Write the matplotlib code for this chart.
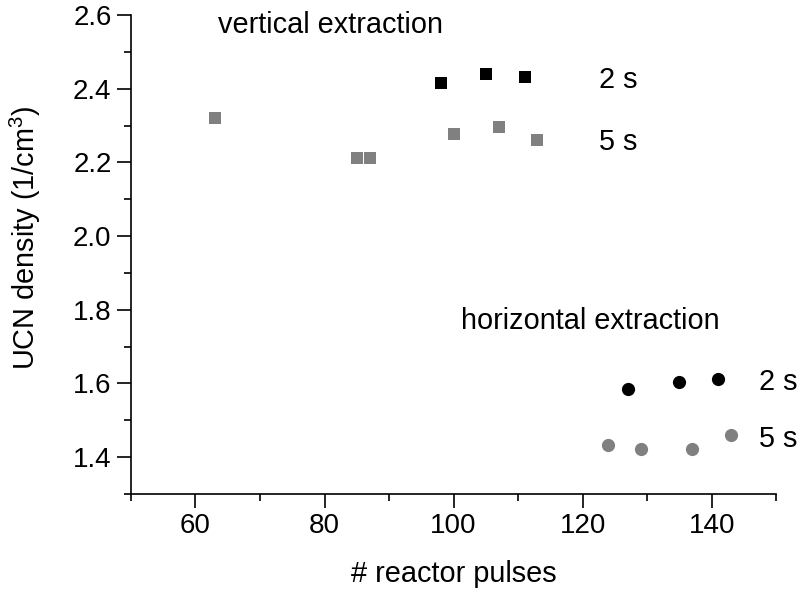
import matplotlib
matplotlib.use("Agg")
from matplotlib import pyplot as plt
from matplotlib.ticker import MultipleLocator

plt.rcParams['font.family'] = ['Liberation Sans', 'DejaVu Sans']
plt.rcParams['mathtext.fontset'] = 'custom'
plt.rcParams['mathtext.rm'] = 'Liberation Sans'

# vertical extraction (squares)
vert_2s_x = [98, 105, 111]
vert_2s_y = [2.416, 2.439, 2.433]
vert_5s_x = [63, 85, 87, 100, 107, 113]
vert_5s_y = [2.320, 2.212, 2.212, 2.278, 2.296, 2.260]

# horizontal extraction (circles)
hor_2s_x = [127, 135, 141]
hor_2s_y = [1.585, 1.604, 1.612]
hor_5s_x = [124, 129, 137, 143]
hor_5s_y = [1.434, 1.423, 1.421, 1.459]

gray = '#808080'
fs = 20.8

fig = plt.figure(figsize=(8.01, 5.89), dpi=100)
ax = fig.add_axes([0.1635, 0.1613, 0.8055, 0.8132])

ax.plot(vert_2s_x, vert_2s_y, 's', color='black', ms=8.5, mew=0)
ax.plot(vert_5s_x, vert_5s_y, 's', color=gray, ms=8.5, mew=0)
ax.plot(hor_2s_x, hor_2s_y, 'o', color='black', ms=9.5, mew=0)
ax.plot(hor_5s_x, hor_5s_y, 'o', color=gray, ms=9.5, mew=0)

ax.text(63.5, 2.551, 'vertical extraction', fontsize=fs, va='baseline')
ax.text(122.6, 2.401, '2 s', fontsize=fs, va='baseline')
ax.text(122.6, 2.234, '5 s', fontsize=fs, va='baseline')
ax.text(101.2, 1.749, 'horizontal extraction', fontsize=fs, va='baseline')
ax.text(147.3, 1.582, '2 s', fontsize=fs, va='baseline', clip_on=False)
ax.text(147.3, 1.427, '5 s', fontsize=fs, va='baseline', clip_on=False)

ax.set_xlim(50, 150)
ax.set_ylim(1.3, 2.6)
ax.xaxis.set_minor_locator(MultipleLocator(10))
ax.yaxis.set_minor_locator(MultipleLocator(0.1))
ax.set_xticks([60, 80, 100, 120, 140])
ax.set_yticks([1.4, 1.6, 1.8, 2.0, 2.2, 2.4, 2.6])
ax.yaxis.set_major_formatter(plt.FormatStrFormatter('%.1f'))

ax.spines['right'].set_visible(False)
ax.spines['top'].set_visible(False)
for s in ['left', 'bottom']:
    ax.spines[s].set_linewidth(1.2)
ax.tick_params(which='major', direction='out', length=10, width=1.2, labelsize=20, pad=4)
ax.tick_params(which='minor', direction='out', length=5, width=1.2)

ax.set_xlabel('# reactor pulses', fontsize=fs)
ax.set_ylabel('UCN density (1/cm$^3$)', fontsize=fs)
ax.xaxis.set_label_coords(0.5, -0.138)
ax.yaxis.set_label_coords(-0.136, 0.534)

fig.savefig('out.png', dpi=100)
